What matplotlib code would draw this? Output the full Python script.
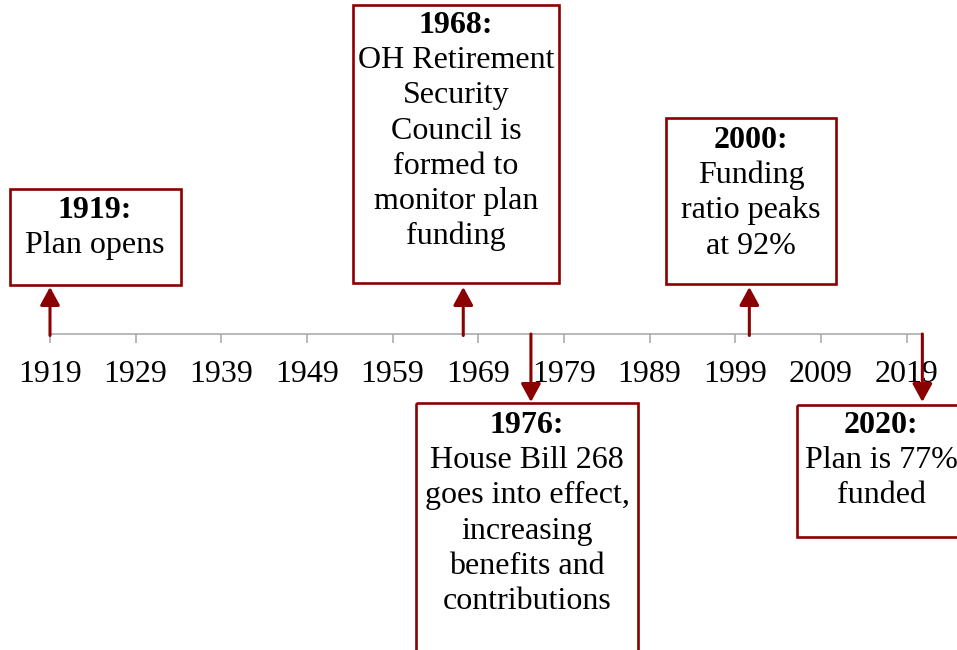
import matplotlib.pyplot as plt
from matplotlib.patches import Rectangle

plt.rcParams['font.family'] = ['Liberation Serif', 'DejaVu Serif']

# data
tick_years = list(range(1919, 2020, 10))
axis_end = 2020.85
event_years = ['1919', '1968', '1976', '2000', '2020']
event_pos = [1919.0, 1967.25, 1975.15, 2000.65, 2020.85]   # where each arrow meets the axis
event_dir = ['up', 'up', 'down', 'up', 'down']
event_text = [
    ['Plan opens'],
    ['OH Retirement', 'Security', 'Council is', 'formed to', 'monitor plan', 'funding'],
    ['House Bill 268', 'goes into effect,', 'increasing', 'benefits and', 'contributions'],
    ['Funding', 'ratio peaks', 'at 92%'],
    ['Plan is 77%', 'funded'],
]

# layout (pixels, y downwards)
W, H = 957, 650
px_per_year = 8.565
axis_y = 334
boxes = [(10, 189, 181, 285), (353, 5, 559, 283), (416, 403, 638, 700),
         (666, 118, 836, 284), (797, 405, 1000, 537)]
text_cx = [95, 456, 527, 751, 881]
title_base = [218, 33, 433, 148, 433]
line_step = 35.2
fsize = 23
red = '#8B0000'
grey = '#A6A6A6'

fig = plt.figure(figsize=(W / 100, H / 100), dpi=100)

# timeline axis
ax = fig.add_axes([0, 0, 1, 1])
x0 = 1919 - 50 / px_per_year
ax.set_xlim(x0, x0 + W / px_per_year)
ax.set_ylim(H, 0)
for s in ['left', 'right', 'top']:
    ax.spines[s].set_visible(False)
ax.spines['bottom'].set_position(('data', axis_y))
ax.spines['bottom'].set_bounds(1919, axis_end)
ax.spines['bottom'].set_color(grey)
ax.spines['bottom'].set_linewidth(1.1)
ax.set_yticks([])
ax.set_xticks(tick_years)
ax.set_xticklabels([str(y) for y in tick_years], fontsize=fsize)
ax.tick_params(axis='x', direction='out', length=6.5, width=1.1, color=grey, pad=12)
ax.patch.set_alpha(0)

# arrows
for x, d in zip(event_pos, event_dir):
    if d == 'up':
        start, tip = axis_y + 1.5, 287
    else:
        start, tip = axis_y, 402
    ax.annotate('', xy=(x, tip), xytext=(x, start),
                arrowprops=dict(arrowstyle='-|>,head_length=0.55,head_width=0.3',
                                mutation_scale=20, lw=2.2, color=red,
                                shrinkA=0, shrinkB=0), annotation_clip=False)

# boxes and text
lay = fig.add_axes([0, 0, 1, 1])
lay.set_xlim(0, W)
lay.set_ylim(H, 0)
lay.axis('off')
lay.patch.set_alpha(0)
for i, (l, t, r, b) in enumerate(boxes):
    lay.add_patch(Rectangle((l, t), r - l, b - t, fill=False, edgecolor=red, lw=1.9, clip_on=False))
    lay.text(text_cx[i], title_base[i], event_years[i] + ':', ha='center', va='baseline',
             fontsize=fsize, fontweight='bold')
    for j, line in enumerate(event_text[i]):
        lay.text(text_cx[i], title_base[i] + (j + 1) * line_step, line, ha='center',
                 va='baseline', fontsize=fsize)

plt.savefig('out.png', dpi=100)
